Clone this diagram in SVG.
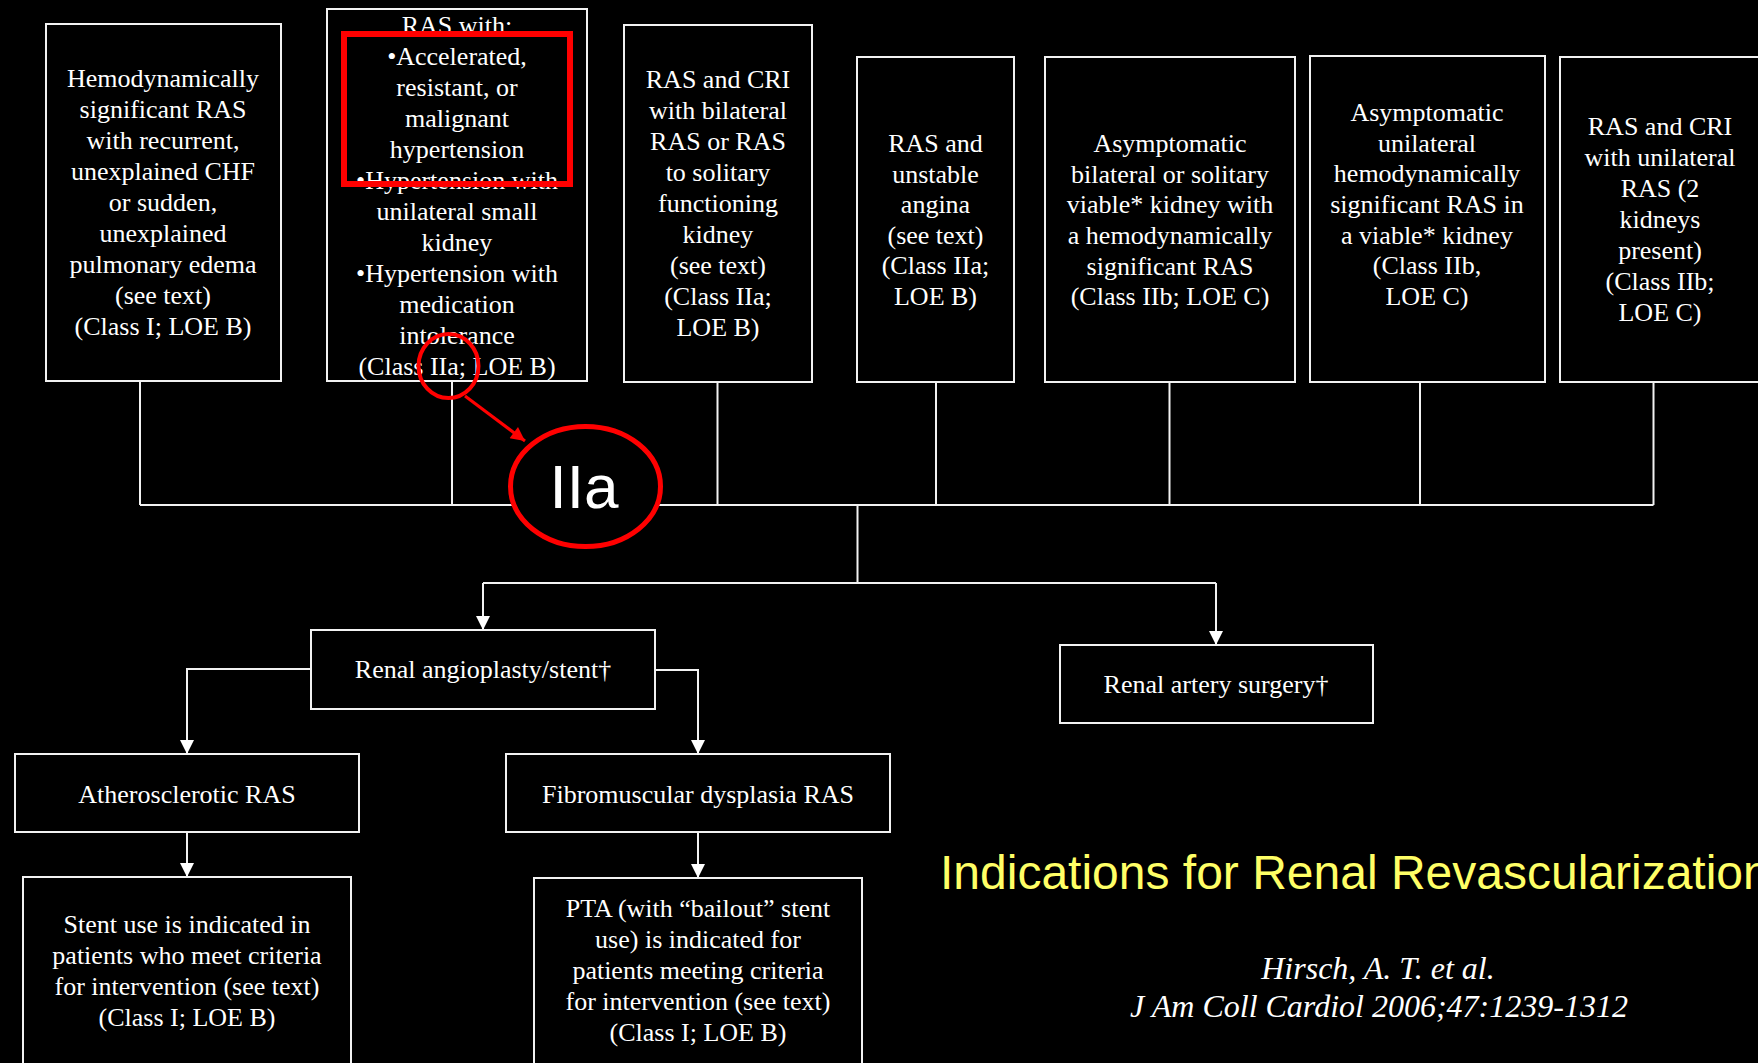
<svg xmlns="http://www.w3.org/2000/svg" width="1758" height="1063" viewBox="0 0 1758 1063">
<defs>
<style>
.box{fill:#000;stroke:#f2f2f2;stroke-width:2}
.t{font-family:"Liberation Serif","Times New Roman",serif;font-size:26px;fill:#fff;text-anchor:middle}
.c{fill:none;stroke:#f2f2f2;stroke-width:2}
.red{fill:none;stroke:#ff0000}
.title{font-family:"Liberation Sans",Arial,sans-serif;font-size:48px;fill:#ffff66}
.cite{font-family:"Liberation Serif","Times New Roman",serif;font-size:32px;font-style:italic;fill:#fff;text-anchor:middle}
</style>
<marker id="ah" viewBox="0 0 10 10" refX="10" refY="5" markerWidth="14" markerHeight="15" markerUnits="userSpaceOnUse" orient="auto"><path d="M0,0 L10,5 L0,10 z" fill="#fff"/></marker>
<marker id="rah" viewBox="0 0 10 10" refX="10" refY="5" markerWidth="17" markerHeight="14" markerUnits="userSpaceOnUse" orient="auto"><path d="M0,0 L10,5 L0,10 z" fill="#ff0000"/></marker>
</defs>
<rect width="1758" height="1063" fill="#000"/>

<g id="connectors">
<path class="c" d="M140,381V505M452,381V505M717.5,382V505M936,382V505M1169.5,382V505M1420,382V505M1653.5,382V505M140,505H1653.5M857.5,505V583M483,583H1216"/>
<path class="c" d="M483,583V630" marker-end="url(#ah)"/>
<path class="c" d="M1216,583V645" marker-end="url(#ah)"/>
<path class="c" d="M311,669H187V754" marker-end="url(#ah)"/>
<path class="c" d="M655,670H698V754" marker-end="url(#ah)"/>
<path class="c" d="M187,832V877" marker-end="url(#ah)"/>
<path class="c" d="M698,832V878" marker-end="url(#ah)"/>
</g>

<g id="n1">
<rect class="box" x="46" y="24" width="235" height="357"/>
<text class="t"><tspan x="163" y="87">Hemodynamically</tspan><tspan x="163" y="118">significant RAS</tspan><tspan x="163" y="149">with recurrent,</tspan><tspan x="163" y="180">unexplained CHF</tspan><tspan x="163" y="211">or sudden,</tspan><tspan x="163" y="242">unexplained</tspan><tspan x="163" y="273">pulmonary edema</tspan><tspan x="163" y="304">(see text)</tspan><tspan x="163" y="335">(Class I; LOE B)</tspan></text>
</g>

<g id="n2">
<rect class="box" x="327" y="9" width="260" height="372"/>
<text class="t"><tspan x="457" y="34">RAS with:</tspan><tspan x="457" y="65">•Accelerated,</tspan><tspan x="457" y="96">resistant, or</tspan><tspan x="457" y="127">malignant</tspan><tspan x="457" y="158">hypertension</tspan><tspan x="457" y="189">•Hypertension with</tspan><tspan x="457" y="220">unilateral small</tspan><tspan x="457" y="251">kidney</tspan><tspan x="457" y="282">•Hypertension with</tspan><tspan x="457" y="313">medication</tspan><tspan x="457" y="344">intolerance</tspan><tspan x="457" y="375">(Class IIa; LOE B)</tspan></text>
</g>

<g id="n3">
<rect class="box" x="624" y="25" width="188" height="357"/>
<text class="t"><tspan x="718" y="88">RAS and CRI</tspan><tspan x="718" y="119">with bilateral</tspan><tspan x="718" y="150">RAS or RAS</tspan><tspan x="718" y="181">to solitary</tspan><tspan x="718" y="212">functioning</tspan><tspan x="718" y="243">kidney</tspan><tspan x="718" y="274">(see text)</tspan><tspan x="718" y="305">(Class IIa;</tspan><tspan x="718" y="336">LOE B)</tspan></text>
</g>

<g id="n4">
<rect class="box" x="857" y="57" width="157" height="325"/>
<text class="t"><tspan x="935.5" y="152">RAS and</tspan><tspan x="935.5" y="183">unstable</tspan><tspan x="935.5" y="213">angina</tspan><tspan x="935.5" y="244">(see text)</tspan><tspan x="935.5" y="274">(Class IIa;</tspan><tspan x="935.5" y="305">LOE B)</tspan></text>
</g>

<g id="n5">
<rect class="box" x="1045" y="57" width="250" height="325"/>
<text class="t"><tspan x="1170" y="152">Asymptomatic</tspan><tspan x="1170" y="183">bilateral or solitary</tspan><tspan x="1170" y="213">viable* kidney with</tspan><tspan x="1170" y="244">a hemodynamically</tspan><tspan x="1170" y="275">significant RAS</tspan><tspan x="1170" y="305">(Class IIb; LOE C)</tspan></text>
</g>

<g id="n6">
<rect class="box" x="1310" y="56" width="235" height="326"/>
<text class="t"><tspan x="1427" y="121">Asymptomatic</tspan><tspan x="1427" y="152">unilateral</tspan><tspan x="1427" y="182">hemodynamically</tspan><tspan x="1427" y="213">significant RAS in</tspan><tspan x="1427" y="244">a viable* kidney</tspan><tspan x="1427" y="274">(Class IIb,</tspan><tspan x="1427" y="305">LOE C)</tspan></text>
</g>

<g id="n7">
<rect class="box" x="1560" y="57" width="220" height="325"/>
<text class="t"><tspan x="1660" y="135">RAS and CRI</tspan><tspan x="1660" y="166">with unilateral</tspan><tspan x="1660" y="197">RAS (2</tspan><tspan x="1660" y="228">kidneys</tspan><tspan x="1660" y="259">present)</tspan><tspan x="1660" y="290">(Class IIb;</tspan><tspan x="1660" y="321">LOE C)</tspan></text>
</g>

<g id="n8">
<rect class="box" x="311" y="630" width="344" height="79"/>
<text class="t" x="483" y="678">Renal angioplasty/stent†</text>
</g>

<g id="n9">
<rect class="box" x="1060" y="645" width="313" height="78"/>
<text class="t" x="1216" y="693">Renal artery surgery†</text>
</g>

<g id="n10">
<rect class="box" x="15" y="754" width="344" height="78"/>
<text class="t" x="187" y="803">Atherosclerotic RAS</text>
</g>

<g id="n11">
<rect class="box" x="506" y="754" width="384" height="78"/>
<text class="t" x="698" y="803">Fibromuscular dysplasia RAS</text>
</g>

<g id="n12">
<rect class="box" x="23" y="877" width="328" height="200"/>
<text class="t"><tspan x="187" y="933">Stent use is indicated in</tspan><tspan x="187" y="964">patients who meet criteria</tspan><tspan x="187" y="995">for intervention (see text)</tspan><tspan x="187" y="1026">(Class I; LOE B)</tspan></text>
</g>

<g id="n13">
<rect class="box" x="534" y="878" width="328" height="200"/>
<text class="t"><tspan x="698" y="917">PTA (with “bailout” stent</tspan><tspan x="698" y="948">use) is indicated for</tspan><tspan x="698" y="979">patients meeting criteria</tspan><tspan x="698" y="1010">for intervention (see text)</tspan><tspan x="698" y="1041">(Class I; LOE B)</tspan></text>
</g>

<g id="annotations">
<rect class="red" x="344" y="34" width="226" height="150" stroke-width="6"/>
<ellipse class="red" cx="448.5" cy="366" rx="30" ry="32" stroke-width="4"/>
<line x1="465" y1="396" x2="525" y2="441" stroke="#ff0000" stroke-width="3" marker-end="url(#rah)"/>
<ellipse cx="585.5" cy="486.5" rx="75" ry="60" fill="#000" stroke="#ff0000" stroke-width="5"/>
<text x="584" y="508" font-family="Liberation Sans,Arial,sans-serif" font-size="62" fill="#fff" text-anchor="middle">IIa</text>
</g>

<g id="caption">
<text class="title" x="940" y="889">Indications for Renal Revascularization</text>
<text class="cite" x="1378" y="979">Hirsch, A. T. et al.</text>
<text class="cite" x="1379" y="1017">J Am Coll Cardiol 2006;47:1239-1312</text>
</g>
</svg>
